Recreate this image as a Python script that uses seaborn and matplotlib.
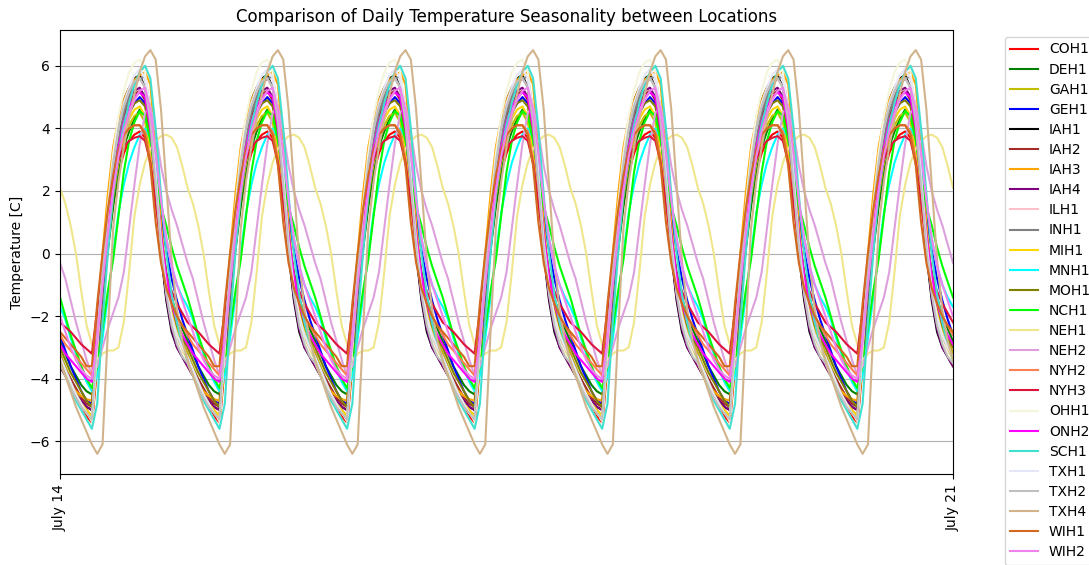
import numpy as np
import pandas as pd
import matplotlib
matplotlib.use("Agg")
import matplotlib.pyplot as plt
import seaborn as sns

# Mean hourly temperature anomaly (hour 0 .. 23) per location
COH1 = [-3.2, -3.7, -4.1, -4.5, -4.9, -5.2, -5.5, -3.6, -1.6, 0.2, 1.6, 2.6, 3.2, 3.6, 3.8, 3.9, 3.7, 3.0, 1.7, 0.3, -0.9, -1.7, -2.3, -2.8]
DEH1 = [-2.8, -3.2, -3.6, -3.9, -4.2, -4.4, -4.5, -3.2, -1.4, 0.1, 1.5, 2.6, 3.4, 3.9, 4.3, 4.6, 4.4, 3.6, 2.1, 0.6, -0.6, -1.4, -2.0, -2.4]
GAH1 = [-3.2, -3.6, -4.0, -4.4, -4.8, -5.1, -5.3, -3.5, -1.4, 0.4, 1.8, 2.9, 3.6, 4.1, 4.4, 4.5, 4.2, 3.3, 1.8, 0.3, -0.9, -1.8, -2.4, -2.8]
GEH1 = [-2.6, -3.1, -3.6, -4.0, -4.4, -4.7, -4.8, -3.3, -1.2, 0.6, 2.0, 3.1, 3.9, 4.5, 4.8, 5.0, 4.8, 4.0, 2.7, 1.2, 0.1, -0.8, -1.5, -2.1]
IAH1 = [-3.6, -3.9, -4.2, -4.5, -4.7, -4.9, -5.0, -2.2, -0.5, 1.3, 3.0, 4.2, 4.9, 5.3, 5.6, 5.7, 5.3, 4.2, 2.0, 0.0, -1.5, -2.5, -3.0, -3.3]
IAH2 = [-3.3, -3.7, -4.0, -4.3, -4.6, -4.8, -4.9, -2.6, -0.6, 1.1, 2.6, 3.7, 4.4, 4.8, 5.1, 5.2, 4.9, 3.9, 2.1, 0.3, -1.1, -2.0, -2.6, -3.0]
IAH3 = [-3.6, -3.9, -4.2, -4.4, -4.55, -4.65, -4.7, -2.0, 0.0, 1.9, 3.4, 4.3, 4.9, 5.3, 5.55, 5.7, 5.8, 5.4, 3.4, 1.0, -0.9, -2.0, -2.7, -3.2]
IAH4 = [-3.6, -3.9, -4.2, -4.5, -4.7, -4.9, -5.0, -2.5, -0.5, 1.3, 2.8, 3.9, 4.6, 5.0, 5.2, 5.3, 5.0, 3.9, 1.9, 0.1, -1.4, -2.4, -3.0, -3.3]
ILH1 = [-3.4, -3.8, -4.2, -4.5, -4.8, -5.0, -5.2, -2.8, -0.7, 1.1, 2.7, 3.8, 4.6, 5.1, 5.4, 5.6, 5.3, 4.3, 2.4, 0.5, -1.0, -2.0, -2.7, -3.1]
INH1 = [-3.3, -3.7, -4.1, -4.5, -4.8, -5.0, -5.2, -2.9, -0.8, 1.0, 2.6, 3.7, 4.5, 5.0, 5.4, 5.6, 5.65, 4.6, 2.6, 0.5, -1.1, -2.1, -2.7, -3.0]
MIH1 = [-3.4, -3.8, -4.2, -4.5, -4.8, -5.0, -5.2, -3.1, -1.0, 0.8, 2.2, 3.2, 3.9, 4.3, 4.6, 4.7, 4.4, 3.4, 1.8, 0.2, -1.0, -1.9, -2.6, -3.0]
MNH1 = [-1.7, -2.1, -2.7, -3.2, -3.7, -4.1, -4.4, -3.9, -2.7, -1.4, 0.0, 1.3, 2.2, 2.9, 3.4, 3.8, 4.0, 3.7, 2.8, 1.6, 0.5, -0.4, -1.0, -1.4]
MOH1 = [-3.0, -3.4, -3.8, -4.1, -4.4, -4.7, -4.9, -3.0, -1.0, 0.7, 2.1, 3.2, 4.0, 4.5, 4.8, 4.9, 4.7, 3.8, 2.2, 0.6, -0.7, -1.6, -2.3, -2.7]
NCH1 = [-1.4, -2.0, -2.6, -3.1, -3.6, -4.0, -4.3, -3.6, -2.4, -1.2, -0.2, 1.2, 2.6, 3.6, 4.2, 4.55, 4.4, 3.6, 2.5, 1.5, 0.9, 0.2, -0.4, -0.9]
NEH1 = [2.1, 1.6, 0.9, 0.0, -1.2, -2.3, -2.9, -3.4, -3.2, -3.1, -3.1, -3.0, -2.2, -0.6, 1.2, 2.2, 2.9, 3.35, 3.6, 3.75, 3.8, 3.7, 3.4, 2.8]
NEH2 = [-0.3, -0.8, -1.5, -2.2, -2.8, -3.4, -3.9, -3.6, -3.0, -2.4, -1.9, -1.4, -0.6, 0.8, 2.2, 3.5, 4.5, 4.7, 3.9, 2.8, 2.0, 1.4, 0.9, 0.3]
NYH2 = [-2.6, -2.9, -3.1, -3.3, -3.5, -3.7, -3.9, -2.0, -0.3, 1.2, 2.4, 3.2, 3.7, 4.0, 4.1, 4.1, 3.9, 3.0, 1.6, 0.2, -0.8, -1.5, -2.0, -2.3]
NYH3 = [-2.2, -2.35, -2.5, -2.7, -2.9, -3.05, -3.2, -1.8, -0.2, 1.2, 2.3, 3.0, 3.4, 3.6, 3.7, 3.75, 3.6, 2.9, 1.6, 0.3, -0.7, -1.2, -1.6, -1.9]
OHH1 = [-3.5, -3.9, -4.3, -4.7, -5.0, -5.3, -5.5, -3.0, -0.6, 1.5, 3.2, 4.4, 5.2, 5.8, 6.1, 6.2, 5.8, 4.5, 2.4, 0.3, -1.2, -2.2, -2.8, -3.2]
ONH2 = [-2.9, -3.2, -3.4, -3.6, -3.8, -4.0, -4.1, -2.6, -0.8, 0.9, 2.3, 3.4, 4.2, 4.7, 5.0, 5.15, 5.0, 4.0, 2.3, 0.6, -0.7, -1.6, -2.2, -2.6]
SCH1 = [-3.4, -3.9, -4.3, -4.7, -5.0, -5.3, -5.6, -4.8, -2.2, 0.0, 1.9, 3.2, 4.1, 4.8, 5.4, 5.8, 6.0, 5.6, 4.0, 1.9, 0.0, -1.3, -2.2, -2.9]
TXH1 = [-3.3, -3.7, -4.1, -4.5, -4.8, -5.1, -5.3, -2.8, -0.6, 1.3, 2.9, 4.0, 4.8, 5.3, 5.7, 5.9, 5.6, 4.5, 2.5, 0.4, -1.1, -2.0, -2.6, -3.0]
TXH2 = [-3.5, -3.9, -4.3, -4.6, -4.9, -5.1, -5.3, -2.7, -0.5, 1.3, 2.9, 4.0, 4.7, 5.2, 5.5, 5.6, 5.3, 4.2, 2.2, 0.2, -1.3, -2.3, -2.9, -3.3]
TXH4 = [-3.4, -3.9, -4.4, -4.9, -5.3, -5.7, -6.1, -6.4, -6.1, -2.5, 0.8, 2.3, 3.4, 4.3, 5.1, 5.8, 6.3, 6.5, 6.2, 4.6, 2.2, -0.2, -1.8, -2.8]
WIH1 = [-2.5, -2.7, -2.9, -3.1, -3.3, -3.6, -3.6, -1.6, 0.0, 1.4, 2.5, 3.3, 3.8, 4.0, 4.1, 4.1, 3.8, 2.8, 1.0, -0.3, -1.1, -1.6, -2.0, -2.3]
WIH2 = [-2.0, -2.5, -3.0, -3.4, -3.7, -3.9, -4.0, -2.8, -1.0, 0.6, 2.0, 3.1, 3.9, 4.5, 4.9, 5.2, 5.3, 4.6, 3.2, 1.7, 0.5, -0.4, -1.0, -1.5]

locations = ["COH1", "DEH1", "GAH1", "GEH1", "IAH1", "IAH2", "IAH3", "IAH4",
             "ILH1", "INH1", "MIH1", "MNH1", "MOH1", "NCH1", "NEH1", "NEH2",
             "NYH2", "NYH3", "OHH1", "ONH2", "SCH1", "TXH1", "TXH2", "TXH4",
             "WIH1", "WIH2"]
profiles = [COH1, DEH1, GAH1, GEH1, IAH1, IAH2, IAH3, IAH4, ILH1, INH1,
            MIH1, MNH1, MOH1, NCH1, NEH1, NEH2, NYH2, NYH3, OHH1, ONH2,
            SCH1, TXH1, TXH2, TXH4, WIH1, WIH2]
line_colors = ["red", "green", "y", "blue", "black", "brown", "orange", "purple",
               "pink", "gray", "gold", "cyan", "olive", "lime", "khaki", "plum",
               "coral", "crimson", "beige", "magenta", "turquoise", "lavender",
               "silver", "tan", "chocolate", "violet"]

n_days = 7
start_label, end_label = "July 14", "July 21"
times = pd.date_range("2023-07-14", periods=n_days * 24 + 1, freq="h")

# One week of hourly values: the daily cycle repeated for each day
frames = []
for loc, prof in zip(locations, profiles):
    week = np.concatenate([np.tile(prof, n_days), prof[:1]])
    frames.append(pd.DataFrame({"time": times, "Location": loc,
                                "Temperature": week}))
df = pd.concat(frames, ignore_index=True)

palette = dict(zip(locations, line_colors))

fig = plt.figure(figsize=(10.89, 5.65), dpi=100)
ax = fig.add_axes([0.0551, 0.161, 0.8200, 0.786])

sns.lineplot(data=df, x="time", y="Temperature", hue="Location",
             hue_order=locations, palette=palette, linewidth=1.5, ax=ax)

ax.set_xlim(times[0], times[-1])
ax.set_xticks([times[0], times[-1]])
ax.set_xticklabels([start_label, end_label], rotation=90)
ax.set_xlabel("")
ax.set_ylabel("Temperature [C]")
ax.set_title("Comparison of Daily Temperature Seasonality between Locations")
ax.grid(axis="y", color="#b0b0b0", linewidth=0.8)
ax.set_axisbelow(True)

ax.legend(loc="upper left", bbox_to_anchor=(1.05, 1), borderaxespad=0.5,
          labelspacing=0.44)

fig.savefig("out.png", dpi=100)
